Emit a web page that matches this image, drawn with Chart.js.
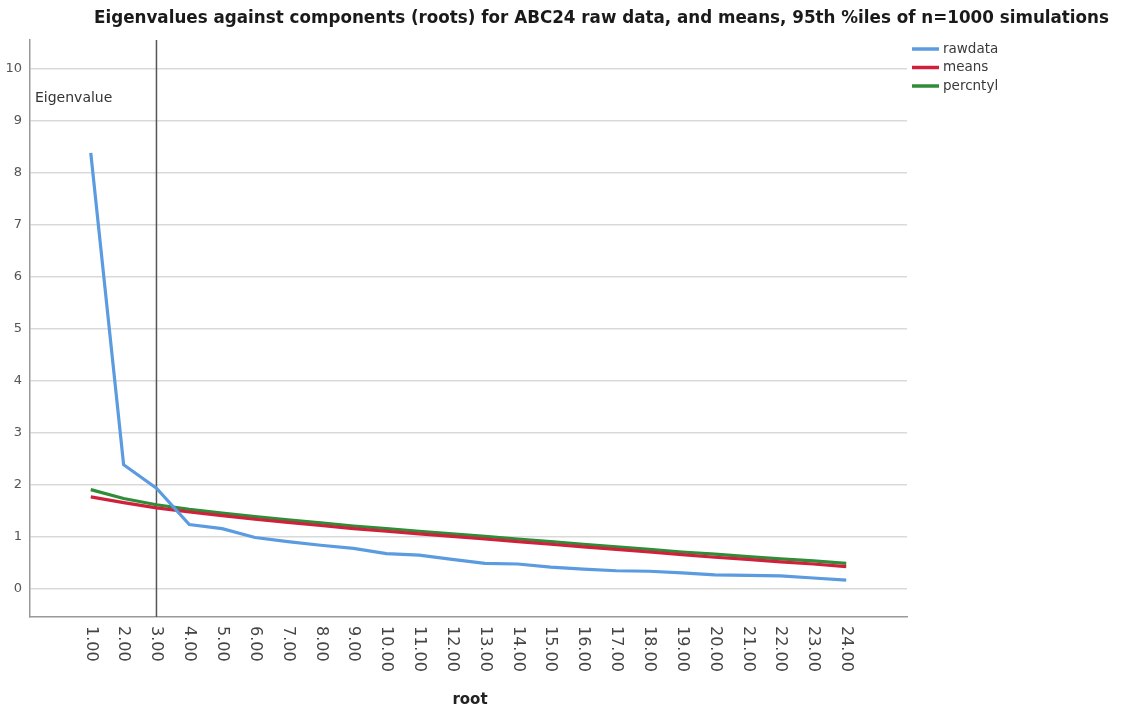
<!DOCTYPE html>
<html>
<head>
<meta charset="utf-8">
<script src="https://cdn.jsdelivr.net/npm/chart.js@4.4.1/dist/chart.umd.min.js"></script>
<style>
  body { margin: 0; background: #fff; }
  #wrap { width: 1123px; height: 711px; }
</style>
</head>
<body>
<div id="wrap"><canvas id="scree" width="1123" height="711"></canvas></div>
<script>
// roots 1..24 and eigenvalues
const roots = [1, 2, 3, 4, 5, 6, 7, 8, 9, 10, 11, 12, 13, 14, 15, 16, 17, 18, 19, 20, 21, 22, 23, 24];
const rawdata = [8.38, 2.38, 1.93, 1.23, 1.15, 0.98, 0.90, 0.83, 0.77, 0.67, 0.64, 0.56, 0.48, 0.47, 0.41, 0.37, 0.34, 0.33, 0.30, 0.26, 0.25, 0.24, 0.20, 0.16];
const means = [1.76, 1.65, 1.55, 1.47, 1.40, 1.33, 1.27, 1.21, 1.15, 1.10, 1.05, 1.00, 0.95, 0.90, 0.85, 0.80, 0.75, 0.70, 0.65, 0.60, 0.56, 0.51, 0.47, 0.42];
const percntyl = [1.90, 1.73, 1.61, 1.52, 1.45, 1.38, 1.32, 1.26, 1.20, 1.15, 1.10, 1.05, 1.00, 0.95, 0.90, 0.85, 0.80, 0.75, 0.70, 0.66, 0.61, 0.57, 0.53, 0.48];
const yTicks = [0, 1, 2, 3, 4, 5, 6, 7, 8, 9, 10];
const cutRoot = 3;

const titleText = 'Eigenvalues against components (roots) for ABC24 raw data, and means, 95th %iles of n=1000 simulations';

function pts(arr) {
  return roots.map((r, i) => ({ x: r, y: arr[i] }));
}

const extras = {
  id: 'extras',
  beforeDatasetsDraw(chart) {
    const { ctx, chartArea, scales } = chart;
    const px = scales.x.getPixelForValue(cutRoot);
    ctx.save();
    ctx.strokeStyle = '#555';
    ctx.lineWidth = 1.5;
    ctx.beginPath();
    ctx.moveTo(px, chartArea.top);
    ctx.lineTo(px, chartArea.bottom);
    ctx.stroke();
    ctx.restore();
  },
  afterDraw(chart) {
    const { ctx, chartArea, scales } = chart;
    ctx.save();

    // title, squeezed like the original
    ctx.font = 'bold 16px "DejaVu Sans"';
    ctx.fillStyle = '#1a1a1a';
    ctx.textBaseline = 'middle';
    ctx.textAlign = 'left';
    const tw = ctx.measureText(titleText).width;
    ctx.save();
    ctx.translate(94, 19);
    ctx.scale(1015 / tw, 1.05);
    ctx.fillText(titleText, 0, 0);
    ctx.restore();

    // y label inside plot
    ctx.font = '14px "DejaVu Sans"';
    ctx.fillStyle = '#333';
    ctx.fillText('Eigenvalue', 35, 98);

    // x tick labels, turned clockwise
    ctx.font = '16px "DejaVu Sans"';
    ctx.fillStyle = '#444';
    roots.forEach(r => {
      const px = scales.x.getPixelForValue(r);
      ctx.save();
      ctx.translate(px, chartArea.bottom + 9);
      ctx.rotate(Math.PI / 2);
      ctx.textAlign = 'left';
      ctx.textBaseline = 'middle';
      ctx.fillText(r.toFixed(2), 0, 0);
      ctx.restore();
    });

    // x title
    ctx.font = 'bold 15px "DejaVu Sans"';
    ctx.fillStyle = '#222';
    ctx.textAlign = 'center';
    ctx.fillText('root', 470, 700);

    // legend
    ctx.textAlign = 'left';
    ctx.font = '13.5px "DejaVu Sans"';
    chart.data.datasets.forEach((ds, i) => {
      const y = 49 + i * 18.5;
      ctx.strokeStyle = ds.borderColor;
      ctx.lineWidth = 3.5;
      ctx.beginPath();
      ctx.moveTo(912, y);
      ctx.lineTo(939, y);
      ctx.stroke();
      ctx.fillStyle = '#3a3a3a';
      ctx.fillText(ds.label, 943, y);
    });
    ctx.restore();
  }
};

new Chart(document.getElementById('scree'), {
  type: 'line',
  data: {
    datasets: [
      { label: 'rawdata', data: pts(rawdata), borderColor: '#5b9be0', borderWidth: 3.2, pointRadius: 0, tension: 0 },
      { label: 'means', data: pts(means), borderColor: '#d1203c', borderWidth: 3.2, pointRadius: 0, tension: 0 },
      { label: 'percntyl', data: pts(percntyl), borderColor: '#2f8c37', borderWidth: 3.2, pointRadius: 0, tension: 0 }
    ]
  },
  options: {
    responsive: false,
    animation: false,
    layout: { padding: { top: 40, right: 216, left: 0, bottom: 0 } },
    plugins: { legend: { display: false }, title: { display: false }, tooltip: { enabled: false } },
    scales: {
      x: {
        type: 'linear',
        min: -0.85,
        max: 25.85,
        afterBuildTicks: s => { s.ticks = roots.map(v => ({ value: v })); },
        afterFit: s => { s.height = 94; },
        ticks: { display: false },
        grid: { drawOnChartArea: false, drawTicks: false },
        border: { display: true, color: '#9a9a9a', width: 1.5 }
      },
      y: {
        min: -0.55,
        max: 10.55,
        afterBuildTicks: s => { s.ticks = yTicks.map(v => ({ value: v })); },
        afterFit: s => { s.width = 30; },
        ticks: { padding: 8, color: '#555', font: { family: 'DejaVu Sans', size: 13 } },
        grid: { color: '#d9d9d9', lineWidth: 1.5, drawTicks: false },
        border: { display: true, color: '#9a9a9a', width: 1.5 }
      }
    }
  },
  plugins: [extras]
});
</script>
</body>
</html>
